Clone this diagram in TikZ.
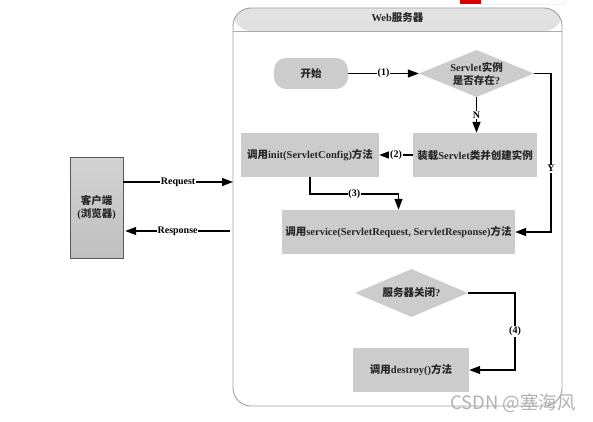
\documentclass[tikz,border=0pt]{standalone}
\usepackage{fontspec}
\setmainfont{Liberation Serif}
\newfontfamily\cjk{Noto Sans CJK SC}
\usetikzlibrary{arrows.meta,shapes.geometric}
\tikzset{
  base/.style={font=\bfseries\fontsize{10.5}{13}\selectfont, text=black!85},
  box/.style={base, fill=gray!40, inner sep=0pt, minimum height=44pt},
  dia/.style={diamond, fill=gray!40, inner sep=0pt},
  conn/.style={line width=1.3pt, -{Triangle[length=11pt,width=8pt]}},
  lbl/.style={fill=white, inner sep=0.8pt, font=\bfseries\fontsize{10}{11}\selectfont},
}
\begin{document}
\begin{tikzpicture}[x=1pt,y=-1pt]
\useasboundingbox (0,0) rectangle (593,422);
% screenshot remnants
\fill[red!85!black] (460,0) rectangle (481,4);
\draw[gray!30] (481,4.5) -- (562,4.5) to[out=0,in=-90] (566,0);

% web server frame
\node (web) [draw=gray!75, line width=0.9pt, rounded corners=18pt,
  minimum width=329pt, minimum height=398pt, inner sep=0pt,
  path picture={\shade[top color=gray!22,bottom color=gray!58]
    (path picture bounding box.north west) rectangle
    ([yshift=-23pt]path picture bounding box.north east);
    \draw[gray!65] ([yshift=-23pt]path picture bounding box.north west) --
    ([yshift=-23pt]path picture bounding box.north east);}] at (397.5,207) {};
\node (title) [base] at (397.5,18) {Web{\cjk 服务器}};

% client
\node (client) [base, draw=gray!70!black, top color=gray!35, bottom color=gray!50,
  minimum width=53pt, minimum height=101pt, inner sep=0pt, align=center]
  at (96.5,207.5) {{\cjk 客户端}\\({\cjk 浏览器})};

% flow nodes
\node (start) [box, rounded corners=12pt, minimum width=74pt, minimum height=31pt]
  at (311,73.5) {\cjk 开始};
\node (d1) [dia, minimum width=115pt, minimum height=47pt] at (476.5,73.5) {};
\node (d1t) [base, align=center] at (d1) {Servlet{\cjk 实例}\\{\cjk 是否存在}?};
\node (load) [box, minimum width=124pt] at (475,155) {{\cjk 装载}Servlet{\cjk 类并创建实例}};
\node (init) [box, minimum width=138pt] at (310,155) {{\cjk 调用}init(ServletConfig){\cjk 方法}};
\node (service) [box, minimum width=233pt] at (398.5,232)
  {{\cjk 调用}service(ServletRequest, ServletResponse){\cjk 方法}};
\node (d2) [dia, minimum width=113pt, minimum height=48pt] at (411.5,293) {};
\node (d2t) [base] at (d2) {{\cjk 服务器关闭}?};
\node (destroy) [box, minimum width=116pt] at (411,370) {{\cjk 调用}destroy(){\cjk 方法}};

% helper coordinates
\coordinate (yr) at (551,0);
\coordinate (c3) at (0,194);
\coordinate (c4) at (515,0);
\coordinate (rq) at (233,182);
\coordinate (rs) at (230,231);

% connectors
\draw[conn] (start) -- node[lbl]{(1)} (d1.west);
\draw[conn] (d1.south) -- node[lbl]{N} (d1.south |- load.north);
\draw[conn] (load) -- node[lbl]{(2)} (init);
\draw[conn] (d1.east) -- (d1.east -| yr) |- node[lbl,pos=0.3]{Y} (service.east);
\draw[conn] (init.south) -- (init.south |- c3) -| node[lbl,pos=0.25]{(3)} (service.north);
\draw[conn] (d2.east) -- (d2.east -| c4) |- node[lbl,pos=0.25]{(4)} (destroy.east);
\draw[conn] (client.east |- rq) -- node[lbl]{Request} (rq);
\draw[conn] (rs) -- node[lbl]{Response} ([xshift=2pt]client.east |- rs);

% watermark
\node (wm) [font=\cjk\fontsize{18.5}{20}\selectfont, text=gray!60, inner sep=0pt] at (513,403) {CSDN @塞海风};
\end{tikzpicture}
\end{document}
